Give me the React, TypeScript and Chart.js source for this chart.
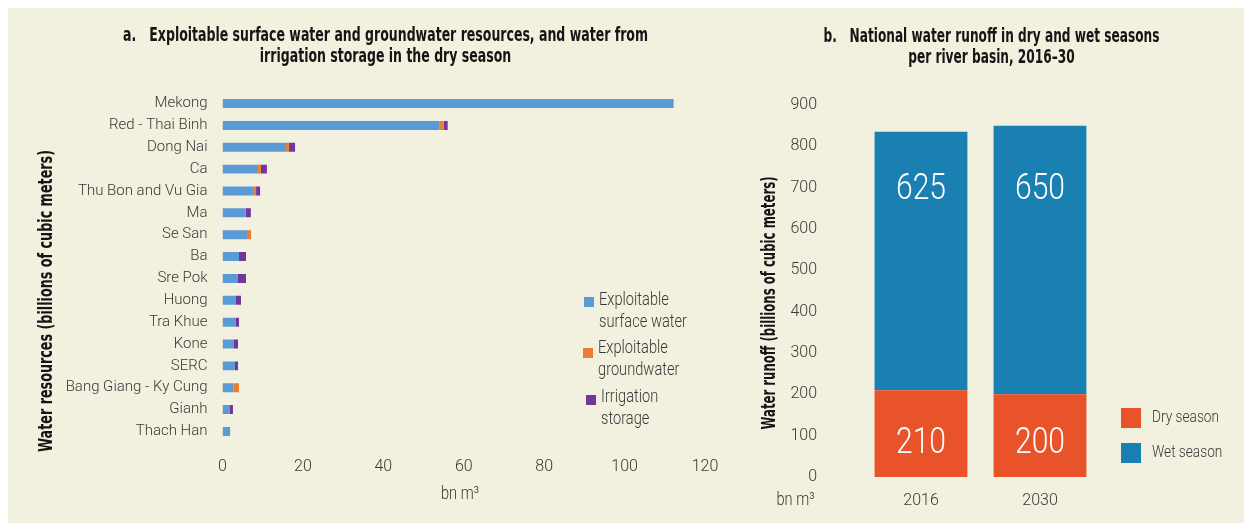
import React, { useEffect, useRef } from "react";
import { Chart, registerables } from "chart.js";

Chart.register(...registerables);

// ---------- Data: panel a ----------
const basins = [
  "Mekong",
  "Red - Thai Binh",
  "Dong Nai",
  "Ca",
  "Thu Bon and Vu Gia",
  "Ma",
  "Se San",
  "Ba",
  "Sre Pok",
  "Huong",
  "Tra Khue",
  "Kone",
  "SERC",
  "Bang Giang - Ky Cung",
  "Gianh",
  "Thach Han",
];
const surfaceWater = [112.2, 54.0, 15.8, 8.8, 7.6, 5.8, 6.3, 4.1, 3.85, 3.35, 3.35, 2.85, 3.1, 2.7, 1.85, 1.9];
const groundwater = [0, 1.0, 0.75, 0.75, 0.75, 0, 0.8, 0, 0, 0, 0, 0, 0, 1.4, 0, 0];
const irrigationStorage = [0, 1.0, 1.5, 1.5, 1.0, 1.25, 0, 1.75, 2.0, 1.25, 0.75, 1.0, 0.75, 0, 0.75, 0];
const xMinA = 0;
const xMaxA = 120;
const xStepA = 20;

// ---------- Data: panel b ----------
const years = ["2016", "2030"];
const drySeason = [210, 200];
const wetSeason = [625, 650];
const yMinB = 0;
const yMaxB = 900;
const yStepB = 100;

const FONT_BOLD = '"Liberation Sans Narrow", "DejaVu Sans Condensed", "Liberation Sans", sans-serif';
const FONT = 'Roboto, "DejaVu Sans Condensed", "Liberation Sans", sans-serif';
const TICK_COLOR = "#383838";
const TITLE_COLOR = "#151515";
const BG = "#F2F0DE";

const C_SURFACE = "#5B9BD5";
const C_GROUND = "#ED7D31";
const C_IRRIG = "#7135A0";
const C_DRY = "#E8532A";
const C_WET = "#1A80B1";

function drawScaled(ctx: any, text: string, x: number, y: number, sx: number) {
  ctx.save();
  ctx.translate(x, y);
  ctx.scale(sx, 1);
  ctx.fillText(text, 0, 0);
  ctx.restore();
}

function drawTitle(ctx: any, lines: string[], cx: number, y0: number, targetWidth: number) {
  ctx.save();
  ctx.fillStyle = TITLE_COLOR;
  ctx.textAlign = "center";
  ctx.textBaseline = "middle";
  ctx.font = `bold 20px ${FONT_BOLD}`;
  const sx = targetWidth / ctx.measureText(lines[0]).width;
  lines.forEach((l, i) => drawScaled(ctx, l, cx, y0 + i * 21, sx));
  ctx.restore();
}

function drawVerticalTitle(ctx: any, text: string, cx: number, cy: number, targetLen: number) {
  ctx.save();
  ctx.fillStyle = TITLE_COLOR;
  ctx.textAlign = "center";
  ctx.textBaseline = "middle";
  ctx.font = `bold 19px ${FONT_BOLD}`;
  const sx = targetLen / ctx.measureText(text).width;
  ctx.translate(cx, cy);
  ctx.rotate(-Math.PI / 2);
  ctx.scale(sx, 1);
  ctx.fillText(text, 0, 0);
  ctx.restore();
}

// fit a text to a target width (keeps the font height)
function drawFit(ctx: any, text: string, x: number, y: number, targetWidth: number) {
  const sx = Math.min(1, targetWidth / ctx.measureText(text).width);
  drawScaled(ctx, text, x, y, sx);
}

const decorA = {
  id: "decorA",
  afterDraw(chart: any) {
    const ctx = chart.ctx;
    drawTitle(
      ctx,
      ["a.   Exploitable surface water and groundwater resources, and water from", "irrigation storage in the dry season"],
      377.5,
      28,
      525
    );
    drawVerticalTitle(ctx, "Water resources (billions of cubic meters)", 39.5, 293, 302);

    ctx.save();
    ctx.textBaseline = "middle";
    ctx.textAlign = "center";
    ctx.fillStyle = TICK_COLOR;
    ctx.font = `300 18px ${FONT}`;
    drawFit(ctx, "bn m³", 452, 486, 38);

    const items = [
      { c: C_SURFACE, sx: 576, sy: 289, tx: 591, ty: 292, lines: ["Exploitable", "surface water"] },
      { c: C_GROUND, sx: 575, sy: 340, tx: 590, ty: 340, lines: ["Exploitable", "groundwater"] },
      { c: C_IRRIG, sx: 578, sy: 387, tx: 593, ty: 389, lines: ["Irrigation", "storage"] },
    ];
    ctx.textAlign = "left";
    ctx.font = `300 18px ${FONT}`;
    const legendScale = 88 / ctx.measureText("surface water").width;
    for (const it of items) {
      ctx.fillStyle = it.c;
      ctx.fillRect(it.sx, it.sy, 10, 10);
      ctx.fillStyle = TICK_COLOR;
      it.lines.forEach((l, i) => drawScaled(ctx, l, it.tx, it.ty + i * 22, legendScale));
    }
    ctx.restore();
  },
};

const decorB = {
  id: "decorB",
  afterDraw(chart: any) {
    const ctx = chart.ctx;
    drawTitle(ctx, ["b.   National water runoff in dry and wet seasons", "per river basin, 2016–30"], 251.5, 29, 336);
    drawVerticalTitle(ctx, "Water runoff (billions of cubic meters)", 30, 295, 253);

    ctx.save();
    ctx.textAlign = "center";
    ctx.textBaseline = "middle";
    const yScale = chart.scales.y;
    ctx.fillStyle = "#ffffff";
    ctx.font = `300 36px ${FONT}`;
    const dryMeta = chart.getDatasetMeta(0);
    const wetMeta = chart.getDatasetMeta(1);
    drySeason.forEach((v, i) => {
      drawFit(ctx, String(v), dryMeta.data[i].x, yScale.getPixelForValue(79), 50);
    });
    wetSeason.forEach((v, i) => {
      drawFit(ctx, String(v), wetMeta.data[i].x, yScale.getPixelForValue(694), 50);
    });

    ctx.fillStyle = TICK_COLOR;
    ctx.font = `300 18px ${FONT}`;
    drawFit(ctx, "bn m³", 55.5, 492, 38);

    ctx.textAlign = "left";
    ctx.font = `300 17px ${FONT}`;
    const items = [
      { c: C_DRY, y: 400, label: "Dry season" },
      { c: C_WET, y: 435, label: "Wet season" },
    ];
    const sc = 67 / ctx.measureText("Dry season").width;
    for (const it of items) {
      ctx.fillStyle = it.c;
      ctx.fillRect(381, it.y, 20, 20);
      ctx.fillStyle = TICK_COLOR;
      drawScaled(ctx, it.label, 412, it.y + 10, sc);
    }
    ctx.restore();
  },
};

const noGrid = { display: false, drawTicks: false };
const noBorder = { display: false };

export default function App() {
  const refA = useRef<HTMLCanvasElement>(null);
  const refB = useRef<HTMLCanvasElement>(null);

  useEffect(() => {
    const chartA = new Chart(refA.current as HTMLCanvasElement, {
      type: "bar",
      data: {
        labels: basins,
        datasets: [
          { label: "Exploitable surface water", data: surfaceWater, backgroundColor: C_SURFACE },
          { label: "Exploitable groundwater", data: groundwater, backgroundColor: C_GROUND },
          { label: "Irrigation storage", data: irrigationStorage, backgroundColor: C_IRRIG },
        ],
      },
      options: {
        indexAxis: "y",
        responsive: false,
        animation: false,
        layout: { padding: { top: 84.6, bottom: 30.6, left: 0, right: 35 } },
        datasets: { bar: { barPercentage: 0.41, categoryPercentage: 1 } },
        scales: {
          x: {
            stacked: true,
            min: xMinA,
            max: xMaxA,
            ticks: { stepSize: xStepA, padding: 15, color: TICK_COLOR, font: { family: FONT, size: 16, weight: "300" } },
            grid: noGrid,
            border: noBorder,
            afterFit: (s: any) => {
              s.height = 50;
              s.paddingLeft = 0;
              s.paddingRight = 0;
            },
          },
          y: {
            stacked: true,
            ticks: { padding: 15, autoSkip: false, color: TICK_COLOR, font: { family: FONT, size: 15, weight: "300" } },
            grid: noGrid,
            border: noBorder,
            afterFit: (s: any) => {
              s.width = 214.5;
              s.paddingTop = 0;
              s.paddingBottom = 0;
            },
          },
        },
        plugins: { legend: { display: false }, tooltip: { enabled: false }, title: { display: false } },
      } as any,
      plugins: [decorA],
    });

    const chartB = new Chart(refB.current as HTMLCanvasElement, {
      type: "bar",
      data: {
        labels: years,
        datasets: [
          { label: "Dry season", data: drySeason, backgroundColor: C_DRY },
          { label: "Wet season", data: wetSeason, backgroundColor: C_WET },
        ],
      },
      options: {
        responsive: false,
        animation: false,
        layout: { padding: { top: 97, bottom: 0, left: 0, right: 144.5 } },
        datasets: { bar: { barPercentage: 0.78, categoryPercentage: 1 } },
        scales: {
          x: {
            stacked: true,
            ticks: { padding: 14, color: TICK_COLOR, font: { family: FONT, size: 16, weight: "300" } },
            grid: noGrid,
            border: noBorder,
            afterFit: (s: any) => {
              s.height = 46;
              s.paddingLeft = 0;
              s.paddingRight = 0;
            },
          },
          y: {
            stacked: true,
            min: yMinB,
            max: yMaxB,
            ticks: { stepSize: yStepB, padding: 44.5, color: TICK_COLOR, font: { family: FONT, size: 16, weight: "300" } },
            grid: noGrid,
            border: noBorder,
            afterFit: (s: any) => {
              s.width = 121.5;
              s.paddingTop = 0;
              s.paddingBottom = 0;
            },
          },
        },
        plugins: { legend: { display: false }, tooltip: { enabled: false }, title: { display: false } },
      } as any,
      plugins: [decorB],
    });

    return () => {
      chartA.destroy();
      chartB.destroy();
    };
  }, []);

  return (
    <div style={{ position: "absolute", left: 8, top: 8, width: 1236, height: 515, background: BG }}>
      <canvas ref={refA} width={732} height={515} style={{ position: "absolute", left: 0, top: 0, display: "block" }} />
      <canvas ref={refB} width={504} height={515} style={{ position: "absolute", left: 732, top: 0, display: "block" }} />
    </div>
  );
}
